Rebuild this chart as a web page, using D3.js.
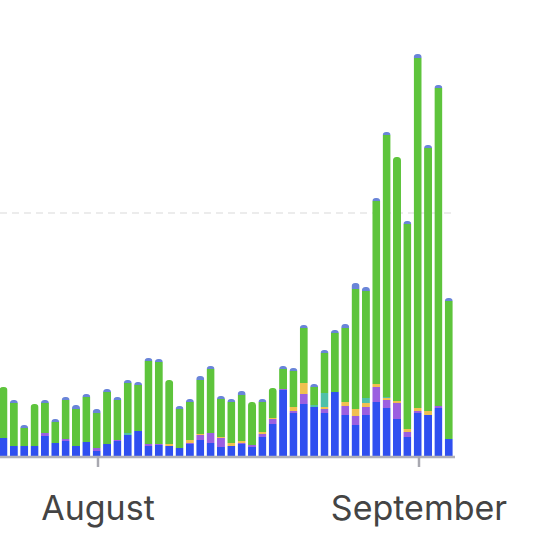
<!DOCTYPE html>
<html>
<head>
<meta charset="utf-8">
<script src="https://cdn.jsdelivr.net/npm/d3@7"></script>
<style>
  body { margin: 0; background: #fff; }
  text { font-family: Inter, "Noto Sans", sans-serif; }
</style>
</head>
<body>
<svg id="chart" width="557" height="560"></svg>
<script>
// one bar per day, Jul 23 .. Sep 4
var days = d3.timeDays(new Date(2020, 6, 23), new Date(2020, 8, 5));

var blue   = [18,10,10,10,20,13,15,10,14,5,12,15,21,25,10,11,10,8,12,16,13,9,10,12,9,19,32,66,43,52,49,43,64,41,31,41,54,48,37,19,43,41,48,17];
var purple = [0,0,0,0,3,0,2,0,0,3,0,1,0,0,2,1,0,0,1,5,10,9,0,1,2,3,5,1,2,10,0,4,0,9,9,8,15,8,16,5,2,0,2,0];
var yellow = [0,0,0,0,0,0,0,0,0,0,0,0,0,0,0,0,2,0,3,1,0,1,3,2,0,2,1,0,4,11,0,2,0,4,7,4,3,2,2,3,3,4,0,0];
var teal   = [0,0,0,0,0,0,0,0,0,0,0,0,2,0,0,0,0,0,0,0,0,0,0,0,0,0,0,0,0,0,2,14,0,0,0,5,0,1,0,0,0,0,0,0];
var green  = [51,43,18,42,30,21,39,37,45,35,52,40,50,46,83,82,64,39,38,54,64,38,41,46,43,30,30,20,36,55,18,40,59,74,120,107,183,262,244,205,350,263,318,138];
var cap    = [0,3,3,0,3,3,3,4,3,4,3,3,3,3,3,3,0,3,3,4,3,3,3,4,0,3,0,3,3,3,3,3,3,4,6,4,3,3,0,3,4,3,3,3];

var keys = ["blue", "purple", "yellow", "teal", "green", "cap"];
var colors = ["#2f4ff0", "#9b5fe0", "#f0c050", "#4fc0a8", "#5ec43c", "#6a85d8"];
var tickLabels = ["August", "September"];
var tickDates = [new Date(2020, 7, 1), new Date(2020, 8, 1)];
var gridValue = 243;

var rows = days.map(function(d, i) {
  return {date: d, blue: blue[i], purple: purple[i], yellow: yellow[i], teal: teal[i], green: green[i], cap: cap[i]};
});

var svg = d3.select("#chart");
var baseY = 456, barW = 8;

var x = d3.scaleTime().domain(tickDates).range([98, 419]);
var y = d3.scaleLinear().domain([0, 243]).range([baseY, 213]);
var color = d3.scaleOrdinal().domain(keys).range(colors);

// dashed gridline
svg.append("line")
  .attr("x1", 0).attr("x2", 455)
  .attr("y1", y(gridValue)).attr("y2", y(gridValue))
  .attr("stroke", "#e6e6e6").attr("stroke-width", 1.5)
  .attr("stroke-dasharray", "7,5");

var series = d3.stack().keys(keys)(rows);

// rounded tops via one clip per bar
var defs = svg.append("defs");
rows.forEach(function(r, i) {
  var total = keys.reduce(function(s, k) { return s + r[k]; }, 0);
  defs.append("clipPath").attr("id", "c" + i)
    .append("rect")
    .attr("x", x(r.date) - 1.3 - barW / 2).attr("width", barW)
    .attr("y", y(total)).attr("height", baseY - y(total) + 5)
    .attr("rx", 3.5);
});

var g = svg.append("g");
series.forEach(function(s) {
  g.selectAll(null).data(s).enter().append("rect")
    .attr("clip-path", function(d, i) { return "url(#c" + i + ")"; })
    .attr("x", function(d) { return x(d.data.date) - 1.3 - barW / 2; })
    .attr("width", barW)
    .attr("y", function(d) { return y(d[1]); })
    .attr("height", function(d) { return y(d[0]) - y(d[1]); })
    .attr("fill", color(s.key));
});

// axis
svg.append("line")
  .attr("x1", 0).attr("x2", 455).attr("y1", baseY + 1).attr("y2", baseY + 1)
  .attr("stroke", "#b0b0b8").attr("stroke-width", 2.5);

var ticks = svg.selectAll(".tick").data(tickDates).enter().append("g")
  .attr("transform", function(d) { return "translate(" + x(d) + ",0)"; });
ticks.append("line")
  .attr("y1", baseY).attr("y2", baseY + 11)
  .attr("stroke", "#a8a8b0").attr("stroke-width", 2.5);
ticks.append("text")
  .attr("y", baseY + 64)
  .attr("text-anchor", "middle")
  .attr("font-size", 34)
  .attr("fill", "#444")
  .text(function(d, i) { return tickLabels[i]; });
</script>
</body>
</html>
